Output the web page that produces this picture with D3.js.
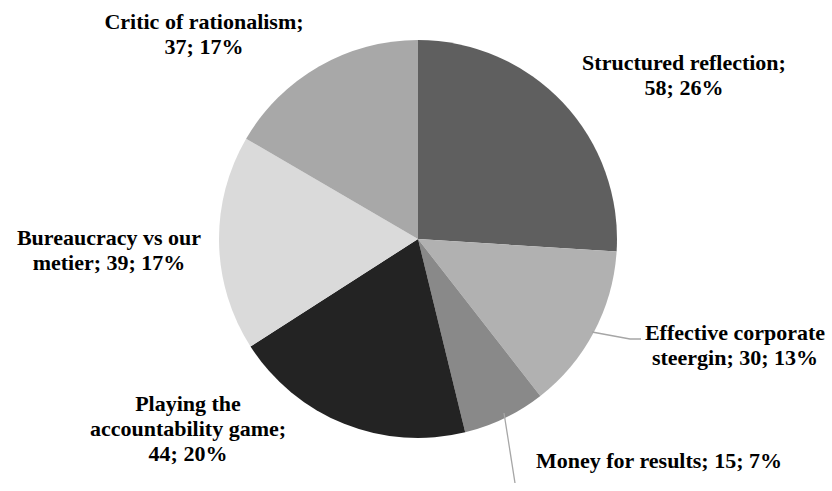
<!DOCTYPE html>
<html>
<head>
<meta charset="utf-8">
<script src="https://cdn.jsdelivr.net/npm/d3@7"></script>
<style>
  html, body { margin: 0; padding: 0; background: #fff; }
  #wrap { position: relative; width: 832px; height: 491px; }
  #chart { position: absolute; left: 0; top: 0; }
  .lbl { position: absolute; white-space: nowrap; transform: translate(-50%, -50%);
         font-family: "Liberation Serif", "Times New Roman", serif; font-weight: bold;
         font-size: 22px; line-height: 22px; color: #000; }
</style>
</head>
<body>
<div id="wrap">
<svg id="chart" width="832" height="491"></svg>
</div>
<script>
const categories = ["Structured reflection", "Effective corporate steergin", "Money for results",
                    "Playing the accountability game", "Bureaucracy vs our metier", "Critic of rationalism"];
const values = [58, 30, 15, 44, 39, 37];
const colors = ["#5f5f5f", "#b1b1b1", "#898989", "#232323", "#dadada", "#a8a8a8"];

// label lines as wrapped in the chart, with anchor centre positions
const labelLines = [
  ["Structured reflection;", "58; 26%"],
  ["Effective corporate", "steergin; 30; 13%"],
  ["Money for results; 15; 7%"],
  ["Playing the", "accountability game;", "44; 20%"],
  ["Bureaucracy vs our", "metier; 39; 17%"],
  ["Critic of rationalism;", "37; 17%"]
];
const labelPos = [[684, 63], [735, 333], [659, 461], [188, 404], [109, 238], [204, 22]];
const lineH = 25;

const svg = d3.select("#chart");
const cx = 418, cy = 239, r = 199;

const pie = d3.pie().sort(null).value(d => d)(values);
const arc = d3.arc().innerRadius(0).outerRadius(r);

const g = svg.append("g").attr("transform", `translate(${cx},${cy})`);
g.selectAll("path").data(pie).join("path")
  .attr("d", arc)
  .attr("fill", (d, i) => colors[i]);

// leader lines for the two labels placed away from their slices
const leader = d3.line();
const leaders = [
  [[592, 332], [630, 339], [641, 339]],
  [[504, 413], [515, 483]]
];
svg.selectAll("path.leader").data(leaders).join("path")
  .attr("class", "leader")
  .attr("d", leader)
  .attr("fill", "none")
  .attr("stroke", "#a6a6a6")
  .attr("stroke-width", 1.3);

// labels as positioned text blocks over the pie, one per wrapped line
const rows = [];
labelLines.forEach((lines, i) => {
  lines.forEach((s, k) => rows.push({ s, x: labelPos[i][0], y: labelPos[i][1] + k * lineH }));
});
d3.select("#wrap").selectAll("div.lbl").data(rows).join("div")
  .attr("class", "lbl")
  .style("left", d => d.x + "px")
  .style("top", d => d.y + "px")
  .text(d => d.s);
</script>
</body>
</html>
